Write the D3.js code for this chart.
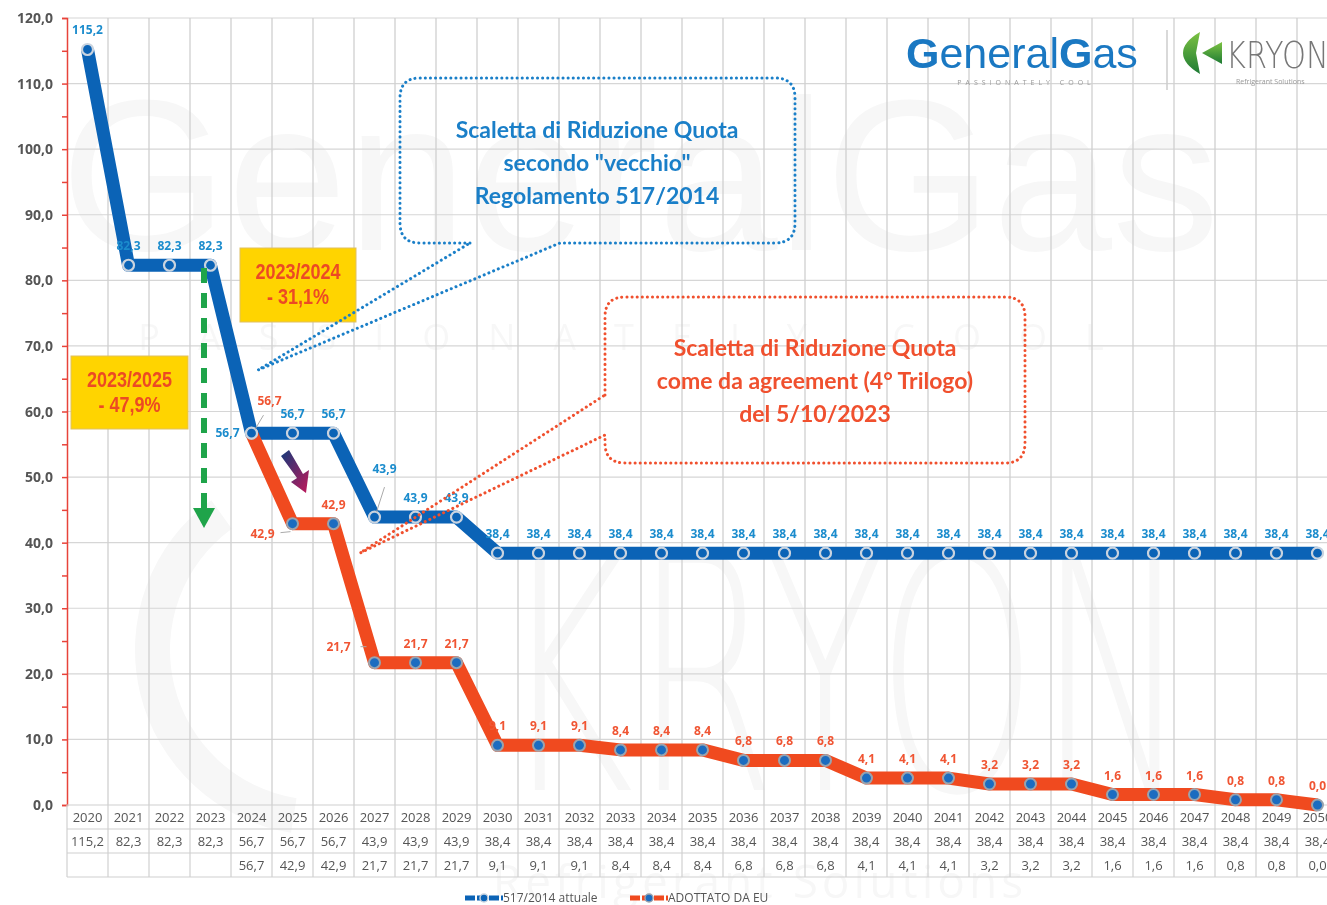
<!DOCTYPE html>
<html>
<head>
<meta charset="utf-8">
<script src="https://cdn.jsdelivr.net/npm/d3@7"></script>
<style>
  body { margin: 0; background: #fff; }
  svg { display: block; font-family: "Open Sans", "Noto Sans", sans-serif; }
</style>
</head>
<body>
<svg id="chart" width="1327" height="905"></svg>
<script>
// categories and series
var years = ["2020","2021","2022","2023","2024","2025","2026","2027","2028","2029","2030",
  "2031","2032","2033","2034","2035","2036","2037","2038","2039","2040","2041","2042",
  "2043","2044","2045","2046","2047","2048","2049","2050"];
var oldQuota = [115.2,82.3,82.3,82.3,56.7,56.7,56.7,43.9,43.9,43.9,38.4,
  38.4,38.4,38.4,38.4,38.4,38.4,38.4,38.4,38.4,38.4,38.4,38.4,
  38.4,38.4,38.4,38.4,38.4,38.4,38.4,38.4];
var euQuota = [null,null,null,null,56.7,42.9,42.9,21.7,21.7,21.7,9.1,
  9.1,9.1,8.4,8.4,8.4,6.8,6.8,6.8,4.1,4.1,4.1,3.2,
  3.2,3.2,1.6,1.6,1.6,0.8,0.8,0.0];
var yTicks = [0,10,20,30,40,50,60,70,80,90,100,110,120];
var seriesNames = ["517/2014 attuale", "ADOTTATO DA EU"];

var BLUE = "#0b63b6", RED = "#f04a1f", BLUE_TXT = "#1b8ccd", RED_TXT = "#f05533";

var svg = d3.select("#chart");
var defs = svg.append("defs");
var fmt = function(v) { return d3.format(".1f")(v).replace(".", ","); };

var x = d3.scaleBand().domain(years).range([67, 67 + 31 * 41]);
var y = d3.scaleLinear().domain([0, 120]).range([805, 18]);
function cx(d) { return x(d) + x.bandwidth() / 2; }

//watermarks, very faint
var wm = svg.append("g").attr("fill", "#000").attr("opacity", 0.035);
wm.append("text").attr("x", 640).attr("y", 250).attr("text-anchor", "middle")
  .style("font-family", "Liberation Sans, Arial").style("font-size", "215px")
  .text("GeneralGas");
wm.append("text").attr("x", 640).attr("y", 350).attr("text-anchor", "middle")
  .style("font-size", "36px").style("letter-spacing", "38px")
  .text("PASSIONATELY COOL");
wm.append("text").attr("transform", "translate(845,790) scale(0.62,1)").attr("text-anchor", "middle")
  .style("font-family", "DejaVu Sans").style("font-weight", "200").style("font-size", "330px")
  .text("KRYON");
wm.append("text").attr("x", 760).attr("y", 898).attr("text-anchor", "middle")
  .style("font-size", "46px").style("letter-spacing", "4px")
  .text("Refrigerant Solutions");
wm.append("path")
  .attr("d", d3.arc().innerRadius(150).outerRadius(185).startAngle(-Math.PI * 0.95).endAngle(-Math.PI * 0.2)())
  .attr("transform", "translate(320,650)");

//grid
var grid = svg.append("g");
grid.selectAll(".hg").data(yTicks.slice(1)).enter().append("line")
  .attr("x1", 67).attr("x2", 1327)
  .attr("y1", function(d) { return y(d); }).attr("y2", function(d) { return y(d); })
  .attr("stroke", "#d6d6d6").attr("stroke-width", 1.2);
grid.selectAll(".vg").data(years).enter().append("line")
  .attr("x1", function(d) { return x(d) + x.bandwidth(); })
  .attr("x2", function(d) { return x(d) + x.bandwidth(); })
  .attr("y1", 18).attr("y2", 805)
  .attr("stroke", "#cfcfcf").attr("stroke-width", 1.3);

//y axis
var yAxis = d3.axisLeft(y).tickValues(d3.range(0, 121, 5)).tickSize(5).tickFormat("");
var ya = svg.append("g").attr("transform", "translate(67,0)").call(yAxis);
ya.select(".domain").attr("stroke", "#e8433a").attr("stroke-width", 1.5);
ya.selectAll(".tick line").attr("stroke", "#e8433a").attr("stroke-width", 1.5);
svg.selectAll(".ylab").data(yTicks).enter().append("text")
  .attr("x", 53).attr("y", function(d) { return y(d) + 5; })
  .attr("text-anchor", "end")
  .style("font-size", "14px").style("font-weight", "700").attr("fill", "#555")
  .text(fmt);

//data table
var tbl = svg.append("g");
var rowY = [805, 829, 853, 877];
rowY.forEach(function(r) {
  tbl.append("line").attr("x1", 67).attr("x2", 1327).attr("y1", r).attr("y2", r)
    .attr("stroke", "#d0d0d0").attr("stroke-width", 1.2);
});
tbl.selectAll(".tv").data(years).enter().append("line")
  .attr("x1", function(d) { return x(d); }).attr("x2", function(d) { return x(d); })
  .attr("y1", 805).attr("y2", 877).attr("stroke", "#d0d0d0").attr("stroke-width", 1.2);
var rows = [years, oldQuota.map(fmt), euQuota.map(function(v) { return v == null ? "" : fmt(v); })];
rows.forEach(function(row, ri) {
  tbl.selectAll(".r" + ri).data(row).enter().append("text")
    .attr("x", function(d, i) { return cx(years[i]); })
    .attr("y", rowY[ri] + 17)
    .attr("text-anchor", "middle")
    .style("font-size", "13px").attr("fill", "#555")
    .text(function(d) { return d; });
});

//lines
var blueLine = d3.line().x(function(d, i) { return cx(years[i]); }).y(function(d) { return y(d); });
var redLine = d3.line().defined(function(d) { return d != null; })
  .x(function(d, i) { return cx(years[i]); }).y(function(d) { return y(d); });

svg.append("path").datum(oldQuota).attr("d", blueLine)
  .attr("fill", "none").attr("stroke", BLUE).attr("stroke-width", 13)
  .attr("stroke-linejoin", "round");
svg.append("path").datum(euQuota).attr("d", redLine)
  .attr("fill", "none").attr("stroke", RED).attr("stroke-width", 13)
  .attr("stroke-linejoin", "round");

//markers
var redPts = [];
euQuota.forEach(function(v, i) { if (v != null) redPts.push({ yr: years[i], v: v }); });
svg.selectAll(".dotR").data(redPts).enter().append("circle")
  .attr("class", "dotR")
  .attr("cx", function(d) { return cx(d.yr); }).attr("cy", function(d) { return y(d.v); })
  .attr("r", 5.5).attr("fill", "#1b6cc0").attr("stroke", "#9aa3ad").attr("stroke-width", 2);
svg.selectAll(".dotB").data(oldQuota).enter().append("circle")
  .attr("class", "dotB")
  .attr("cx", function(d, i) { return cx(years[i]); }).attr("cy", function(d) { return y(d); })
  .attr("r", 5.5).attr("fill", BLUE).attr("stroke", "#c9d3df").attr("stroke-width", 2.2);

//data labels, with a few moved off the line like in the original
var blueOff = { "2024": [-24, 4], "2027": [10, -44] };
var redOff = { "2024": [18, -28], "2025": [-30, 14], "2027": [-36, -12] };

svg.selectAll(".lblB").data(oldQuota).enter().append("text")
  .attr("x", function(d, i) { var o = blueOff[years[i]]; return cx(years[i]) + (o ? o[0] : 0); })
  .attr("y", function(d, i) { var o = blueOff[years[i]]; return y(d) + (o ? o[1] : -15); })
  .attr("text-anchor", "middle")
  .style("font-size", "12px").style("font-weight", "700").attr("fill", BLUE_TXT)
  .text(fmt);
svg.selectAll(".lblR").data(redPts).enter().append("text")
  .attr("x", function(d) { var o = redOff[d.yr]; return cx(d.yr) + (o ? o[0] : 0); })
  .attr("y", function(d) { var o = redOff[d.yr]; return y(d.v) + (o ? o[1] : -15); })
  .attr("text-anchor", "middle")
  .style("font-size", "12px").style("font-weight", "700").attr("fill", RED_TXT)
  .text(function(d) { return fmt(d.v); });

// little leader lines
var leaders = [
  [cx("2024") + 3, y(56.7) - 3, cx("2024") + 12, y(56.7) - 18],
  [cx("2025") - 12, y(42.9) + 9, cx("2025") - 2, y(42.9) + 8],
  [cx("2027") + 2, y(43.9) - 5, cx("2027") + 10, y(43.9) - 30],
  [cx("2027") - 14, y(21.7) - 16, cx("2027") - 8, y(21.7) - 16]
];
svg.selectAll(".lead").data(leaders).enter().append("line")
  .attr("x1", function(d) { return d[0]; }).attr("y1", function(d) { return d[1]; })
  .attr("x2", function(d) { return d[2]; }).attr("y2", function(d) { return d[3]; })
  .attr("stroke", "#aaa").attr("stroke-width", 1);

//green dashed arrow
svg.append("line").attr("x1", 204).attr("x2", 204).attr("y1", 268).attr("y2", 508)
  .attr("stroke", "#1fa44a").attr("stroke-width", 6).attr("stroke-dasharray", "15,10");
svg.append("path").attr("d", "M193,508 L215,508 L204,528 Z").attr("fill", "#1fa44a");

//small diagonal gradient arrow
var gr = defs.append("linearGradient").attr("id", "arrg").attr("x1", "0").attr("y1", "0").attr("x2", "1").attr("y2", "1");
gr.append("stop").attr("offset", "0%").attr("stop-color", "#123a7a");
gr.append("stop").attr("offset", "100%").attr("stop-color", "#c2185b");
svg.append("path")
  .attr("d", "M281,456 L289,450 L303,474 L309,470 L306,493 L291,482 L297,478 Z")
  .attr("fill", "url(#arrg)");

//yellow percentage boxes
var boxes = [
  { x: 240, y: 248, w: 116, h: 74, t1: "2023/2024", t2: "- 31,1%" },
  { x: 71, y: 356, w: 117, h: 73, t1: "2023/2025", t2: "- 47,9%" }
];
boxes.forEach(function(b) {
  svg.append("rect").attr("x", b.x).attr("y", b.y).attr("width", b.w).attr("height", b.h)
    .attr("fill", "#ffd400").attr("stroke", "#e0c060").attr("stroke-width", 1);
  [b.t1, b.t2].forEach(function(t, k) {
    var cxb = b.x + b.w / 2;
    svg.append("text")
      .attr("transform", "translate(" + cxb + "," + (b.y + 31 + k * 25) + ") scale(0.82,1)")
      .attr("text-anchor", "middle")
      .style("font-family", "Liberation Sans, Arial")
      .style("font-size", "22px").style("font-weight", "700").attr("fill", "#ec4a24")
      .text(t);
  });
});

//callouts
function callout(pathD, color, lines, tx, ty) {
  svg.append("path").attr("d", pathD).attr("fill", "none").attr("stroke", color)
    .attr("stroke-width", 3).attr("stroke-linecap", "round").attr("stroke-dasharray", "0.1,5");
  lines.forEach(function(t, k) {
    svg.append("text").attr("x", tx).attr("y", ty + k * 33).attr("text-anchor", "middle")
      .style("font-family", "Lato, Open Sans, sans-serif")
      .style("font-size", "23px").style("font-weight", "700").attr("fill", color)
      .text(t);
  });
}
callout("M470,243 L420,243 Q400,243 400,223 L400,98 Q400,78 420,78 L775,78 Q795,78 795,98 " +
  "L795,223 Q795,243 775,243 L560,243 L258,370 L470,243",
  "#1a7fc8",
  ["Scaletta di Riduzione Quota", "secondo \"vecchio\"", "Regolamento 517/2014"], 597, 138);
callout("M605,395 L605,317 Q605,297 625,297 L1005,297 Q1025,297 1025,317 L1025,443 " +
  "Q1025,463 1005,463 L625,463 Q605,463 605,443 L605,435 L360,553 L605,395",
  "#f0502e",
  ["Scaletta di Riduzione Quota", "come da agreement (4\u00b0 Trilogo)", "del 5/10/2023"], 815, 356);

//logos
var lg = svg.append("text").attr("x", 906).attr("y", 68)
  .style("font-family", "Liberation Sans, Arial").style("font-size", "43px").attr("fill", "#1a78c2");
lg.append("tspan").style("font-weight", "700").text("G");
lg.append("tspan").text("eneral");
lg.append("tspan").style("font-weight", "700").text("G");
lg.append("tspan").text("as");
svg.append("text").attr("x", 1026).attr("y", 85).attr("text-anchor", "middle")
  .style("font-size", "7px").style("letter-spacing", "4px").attr("fill", "#999")
  .text("PASSIONATELY COOL");
svg.append("line").attr("x1", 1167).attr("x2", 1167).attr("y1", 30).attr("y2", 90)
  .attr("stroke", "#ccc").attr("stroke-width", 1.5);
var kg = defs.append("linearGradient").attr("id", "kg").attr("x1", "0").attr("y1", "0").attr("x2", "0").attr("y2", "1");
kg.append("stop").attr("offset", "0%").attr("stop-color", "#7cc242");
kg.append("stop").attr("offset", "100%").attr("stop-color", "#1d7a34");
svg.append("path").attr("d", "M1200,32 Q1183,42 1183,53 Q1183,64 1200,74 L1196,53 Z").attr("fill", "url(#kg)");
svg.append("path").attr("d", "M1202,53 L1222,42 L1222,64 Z").attr("fill", "url(#kg)");
svg.append("text").attr("transform", "translate(1226,68) scale(0.8,1)")
  .style("font-family", "DejaVu Sans").style("font-weight", "200")
  .style("font-size", "38px").attr("fill", "#777").text("KRYON");
svg.append("text").attr("x", 1236).attr("y", 84)
  .style("font-size", "7px").attr("fill", "#999").text("Refrigerant Solutions");

//legend
var leg = svg.append("g").attr("transform", "translate(0,898)");
[[465, BLUE, "#c9d3df", BLUE, seriesNames[0]], [630, RED, "#9aa3ad", "#1b6cc0", seriesNames[1]]].forEach(function(l) {
  leg.append("line").attr("x1", l[0]).attr("x2", l[0] + 38).attr("y1", 0).attr("y2", 0)
    .attr("stroke", l[1]).attr("stroke-width", 5).attr("stroke-dasharray", "10,2");
  leg.append("circle").attr("cx", l[0] + 19).attr("cy", 0).attr("r", 4)
    .attr("fill", l[3]).attr("stroke", l[2]).attr("stroke-width", 1.5);
  leg.append("text").attr("x", l[0] + 38).attr("y", 4)
    .style("font-size", "12px").attr("fill", "#555").text(l[4]);
});
</script>
</body>
</html>
